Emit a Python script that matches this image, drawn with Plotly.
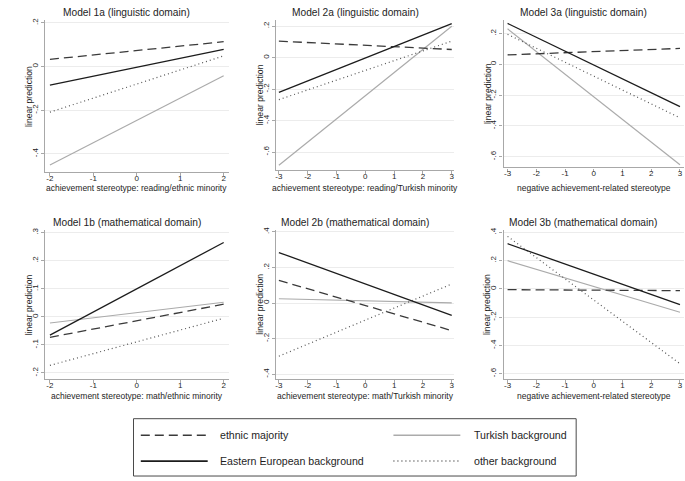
import plotly.graph_objects as go

# ---------------- data ----------------
series_names = ["ethnic majority", "Eastern European background", "Turkish background", "other background"]

panel_titles = ["Model 1a (linguistic domain)", "Model 2a (linguistic domain)", "Model 3a (linguistic domain)",
                "Model 1b (mathematical domain)", "Model 2b (mathematical domain)", "Model 3b (mathematical domain)"]
x_titles = ["achievement stereotype: reading/ethnic minority", "achievement stereotype: reading/Turkish minority",
            "negative achievement-related stereotype",
            "achievement stereotype: math/ethnic minority", "achievement stereotype: math/Turkish minority",
            "negative achievement-related stereotype"]
y_title = "linear prediction"

x_1a = [-2, 2]
maj_1a = [0.033, 0.114]
east_1a = [-0.085, 0.079]
turk_1a = [-0.451, -0.042]
other_1a = [-0.209, 0.049]

x_2a = [-3, 3]
maj_2a = [0.105, 0.052]
east_2a = [-0.221, 0.217]
turk_2a = [-0.684, 0.200]
other_2a = [-0.267, 0.105]

x_3a = [-3, 3]
maj_3a = [0.061, 0.103]
east_3a = [0.265, -0.275]
turk_3a = [0.230, -0.652]
other_3a = [0.194, -0.348]

x_1b = [-2, 2]
maj_1b = [-0.073, 0.045]
east_1b = [-0.065, 0.265]
turk_1b = [-0.022, 0.052]
other_1b = [-0.173, -0.005]

x_2b = [-3, 3]
maj_2b = [0.127, -0.155]
east_2b = [0.284, -0.069]
turk_2b = [0.024, 0.001]
other_2b = [-0.299, 0.107]

x_3b = [-3, 3]
maj_3b = [-0.005, -0.012]
east_3b = [0.320, -0.111]
turk_3b = [0.200, -0.165]
other_3b = [0.372, -0.529]

xticks_1 = [-2, -1, 0, 1, 2]
xticks_23 = [-3, -2, -1, 0, 1, 2, 3]
xticklabels_1 = ["-2", "-1", "0", "1", "2"]
xticklabels_23 = ["-3", "-2", "-1", "0", "1", "2", "3"]

yticks_1a = [0.2, 0, -0.2, -0.4]
yticklabels_1a = [".2", "0", "-.2", "-.4"]
yticks_2a = [0.2, 0, -0.2, -0.4, -0.6]
yticklabels_2a = [".2", "0", "-.2", "-.4", "-.6"]
yticks_3a = [0.2, 0, -0.2, -0.4, -0.6]
yticklabels_3a = [".2", "0", "-.2", "-.4", "-.6"]
yticks_1b = [0.3, 0.2, 0.1, 0, -0.1, -0.2]
yticklabels_1b = [".3", ".2", ".1", "0", "-.1", "-.2"]
yticks_2b = [0.4, 0.2, 0, -0.2, -0.4]
yticklabels_2b = [".4", ".2", "0", "-.2", "-.4"]
yticks_3b = [0.4, 0.2, 0, -0.2, -0.4, -0.6]
yticklabels_3b = [".4", ".2", "0", "-.2", "-.4", "-.6"]

# ---------------- layout / style ----------------
W, H = 685, 481
FONT = "Liberation Sans, Arial, sans-serif"
TXT = "#1e1e1e"
AX = "#a8a8a8"
GRID = "#ececec"

styles = {
    "ethnic majority": dict(color="#3a3a3a", width=1.3, dash="9px,5px"),
    "Eastern European background": dict(color="#1c1c1c", width=1.3, dash="solid"),
    "Turkish background": dict(color="#ababab", width=1.2, dash="solid"),
    "other background": dict(color="#555555", width=1.2, dash="1px,3px"),
}

def px(x):
    return x / W

def py(y):
    return 1 - y / H

panels = [
    dict(x=x_1a, s=[maj_1a, east_1a, turk_1a, other_1a], xt=xticks_1, xl=xticklabels_1, yt=yticks_1a, yl=yticklabels_1a,
         box=(44, 228, 17, 170), xr=[-2.115, 2.115], yr=[-0.483, 0.214]),
    dict(x=x_2a, s=[maj_2a, east_2a, turk_2a, other_2a], xt=xticks_23, xl=xticklabels_23, yt=yticks_2a, yl=yticklabels_2a,
         box=(275.7, 454, 16.7, 168.3), xr=[-3.09, 3.09], yr=[-0.716, 0.242]),
    dict(x=x_3a, s=[maj_3a, east_3a, turk_3a, other_3a], xt=xticks_23, xl=xticklabels_23, yt=yticks_3a, yl=yticklabels_3a,
         box=(503.3, 684, 16.7, 165.5), xr=[-3.14, 3.14], yr=[-0.670, 0.290]),
    dict(x=x_1b, s=[maj_1b, east_1b, turk_1b, other_1b], xt=xticks_1, xl=xticklabels_1, yt=yticks_1b, yl=yticklabels_1b,
         box=(44, 228, 228, 378.5), xr=[-2.115, 2.115], yr=[-0.222, 0.311]),
    dict(x=x_2b, s=[maj_2b, east_2b, turk_2b, other_2b], xt=xticks_23, xl=xticklabels_23, yt=yticks_2b, yl=yticklabels_2b,
         box=(275.7, 454, 228, 378.5), xr=[-3.09, 3.09], yr=[-0.428, 0.413]),
    dict(x=x_3b, s=[maj_3b, east_3b, turk_3b, other_3b], xt=xticks_23, xl=xticklabels_23, yt=yticks_3b, yl=yticklabels_3b,
         box=(503.3, 684, 228, 378.5), xr=[-3.14, 3.14], yr=[-0.638, 0.420]),
]

title_cx = [126, 355, 583]
title_y = [10, 221]
xtitle_y = [185.8, 395.8]

fig = go.Figure()
layout = dict(
    width=W, height=H, margin=dict(l=0, r=0, t=0, b=0),
    paper_bgcolor="white", plot_bgcolor="white",
    font=dict(family=FONT, color=TXT, size=8),
    showlegend=False,
)
annotations = []
shapes = []

draw_order = [2, 3, 0, 1]  # Turkish, other, majority, Eastern

for i, p in enumerate(panels):
    k = "" if i == 0 else str(i + 1)
    xa, ya = "x" + k, "y" + k
    x0, x1, y0, y1 = p["box"]
    for j in draw_order:
        name = series_names[j]
        fig.add_trace(go.Scatter(x=p["x"], y=p["s"][j], mode="lines", name=name,
                                 line=styles[name], xaxis=xa, yaxis=ya, hoverinfo="x+y+name"))
    layout["xaxis" + k] = dict(
        domain=[px(x0), px(x1)], anchor=ya, range=p["xr"], tickmode="array",
        tickvals=p["xt"], ticktext=p["xl"], showgrid=False, zeroline=False,
        showline=True, linecolor=AX, linewidth=1.2, ticks="outside", ticklen=3,
        tickcolor=AX, tickfont=dict(size=8, color=TXT, family=FONT), ticklabelstandoff=-5,
    )
    layout["yaxis" + k] = dict(
        domain=[py(y1), py(y0)], anchor=xa, range=p["yr"], tickmode="array",
        tickvals=p["yt"], ticktext=p["yl"], showgrid=True, gridcolor=GRID, gridwidth=1,
        zeroline=False, showline=True, linecolor=AX, linewidth=1.2, ticks="outside",
        ticklen=3, tickcolor=AX, tickangle=-90, tickfont=dict(size=8, color=TXT, family=FONT),
    )
    row, col = divmod(i, 3)
    annotations.append(dict(text=panel_titles[i], x=px(title_cx[col]), y=py(title_y[row]),
                            xref="paper", yref="paper", xanchor="center", yanchor="middle",
                            showarrow=False, font=dict(size=10.2, color=TXT, family=FONT)))
    annotations.append(dict(text=x_titles[i], x=px((x0 + x1) / 2), y=py(xtitle_y[row]),
                            xref="paper", yref="paper", xanchor="center", yanchor="middle",
                            showarrow=False, font=dict(size=8.5, color=TXT, family=FONT)))
    annotations.append(dict(text=y_title, x=px(x0 - 16), y=py((y0 + y1) / 2),
                            xref="paper", yref="paper", xanchor="center", yanchor="middle",
                            textangle=-90, showarrow=False, font=dict(size=8.6, color=TXT, family=FONT)))

# ---------------- legend (drawn as a framed key) ----------------
shapes.append(dict(type="rect", xref="paper", yref="paper",
                   x0=px(132.7), x1=px(576), y0=py(476), y1=py(418.3),
                   line=dict(color="#4a4a4a", width=1), fillcolor="white"))
legend_slots = [(140, 207, 217, 435), (393, 460, 471.7, 435), (140, 207, 217, 461), (393, 460, 471.7, 461)]
legend_order = [0, 2, 1, 3]
for slot, j in zip(legend_slots, legend_order):
    lx0, lx1, tx, ly = slot
    st = styles[series_names[j]]
    shapes.append(dict(type="line", xref="paper", yref="paper", x0=px(lx0), x1=px(lx1), y0=py(ly), y1=py(ly),
                       line=dict(color=st["color"], width=st["width"] + 0.3, dash=st["dash"])))
    annotations.append(dict(text=series_names[j], x=px(tx), y=py(ly), xref="paper", yref="paper",
                            xanchor="left", yanchor="middle", showarrow=False,
                            font=dict(size=10.6, color=TXT, family=FONT)))

layout["annotations"] = annotations
layout["shapes"] = shapes
fig.update_layout(**layout)
fig.write_html("out.html", config={"displayModeBar": False},
               post_script="document.body.style.margin='0';document.body.style.overflow='hidden';")
